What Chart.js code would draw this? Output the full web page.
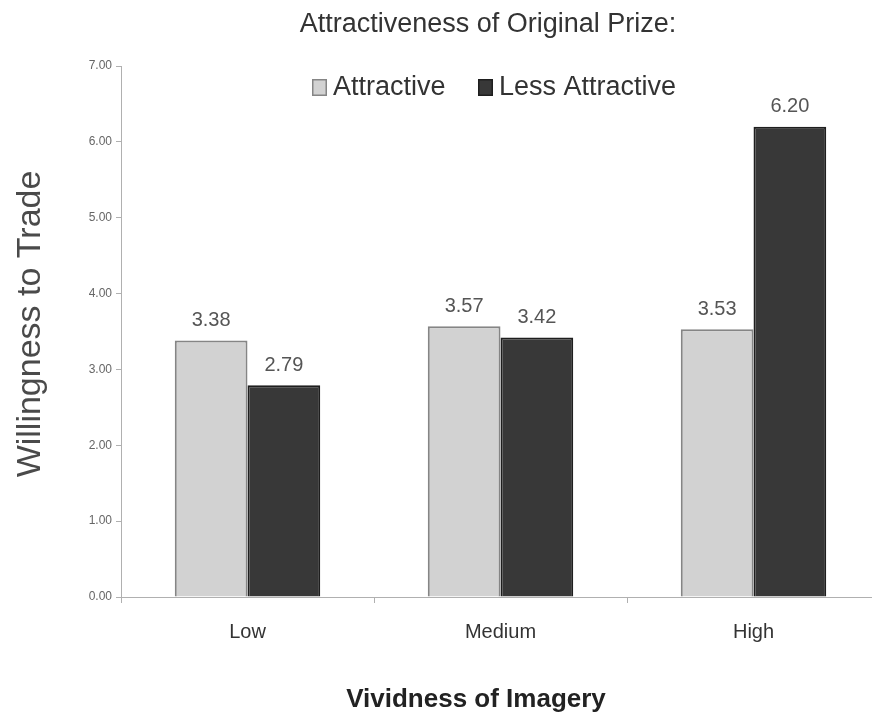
<!DOCTYPE html>
<html>
<head>
<meta charset="utf-8">
<script src="https://cdn.jsdelivr.net/npm/chart.js@4/dist/chart.umd.min.js"></script>
<style>
  html, body { margin: 0; padding: 0; background: #fff; overflow: hidden; }
  #wrap { position: absolute; left: 0; top: 0; width: 900px; height: 723px; }
</style>
</head>
<body>
<div id="wrap"><canvas id="chart"></canvas></div>
<script>
// Vividness of imagery groups and the willingness-to-trade means per prize type
const categories = ['Low', 'Medium', 'High'];
const seriesNames = ['Attractive', 'Less Attractive'];
const attractive = [3.38, 3.57, 3.53];
const lessAttractive = [2.79, 3.42, 6.20];
const yTicks = [0, 1, 2, 3, 4, 5, 6, 7];

const FONT = '"Liberation Sans", Arial, sans-serif';
const LIGHT = '#d2d2d2', LIGHT_EDGE = '#858585';
const DARK = '#383838', DARK_EDGE = '#1e1e1e';

// Title, legend, axis titles and value labels drawn on top of the chart
const annotate = {
  id: 'annotate',
  afterDatasetsDraw(chart) {
    const ctx = chart.ctx;
    ctx.save();

    // value labels above each bar
    ctx.font = '20px ' + FONT;
    ctx.fillStyle = '#555';
    ctx.textAlign = 'center';
    ctx.textBaseline = 'bottom';
    chart.data.datasets.forEach((ds, i) => {
      chart.getDatasetMeta(i).data.forEach((bar, j) => {
        ctx.fillText(ds.data[j].toFixed(2), bar.x, bar.y - 10);
      });
    });

    // chart title
    ctx.fillStyle = '#333';
    ctx.textBaseline = 'middle';
    ctx.font = '27px ' + FONT;
    ctx.fillText('Attractiveness of Original Prize:', 488, 25);

    // legend
    ctx.font = '27px ' + FONT;
    ctx.textAlign = 'left';
    const items = [
      { x: 312, fill: LIGHT, edge: LIGHT_EDGE },
      { x: 478, fill: DARK, edge: DARK_EDGE }
    ];
    items.forEach((it, i) => {
      ctx.fillStyle = it.fill;
      ctx.fillRect(it.x, 79, 15, 17);
      ctx.strokeStyle = it.edge;
      ctx.lineWidth = 1.5;
      ctx.strokeRect(it.x + 0.75, 79.75, 13.5, 15.5);
      ctx.fillStyle = '#333';
      ctx.fillText(seriesNames[i], it.x + 21, 88);
    });

    // y axis title
    ctx.save();
    ctx.translate(31, 324);
    ctx.rotate(-Math.PI / 2);
    ctx.textAlign = 'center';
    ctx.font = '34px ' + FONT;
    ctx.fillStyle = '#4a4a4a';
    ctx.fillText('Willingness to Trade', 0, 0);
    ctx.restore();

    // x axis title
    ctx.textAlign = 'center';
    ctx.font = 'bold 26px ' + FONT;
    ctx.fillStyle = '#222';
    ctx.fillText('Vividness of Imagery', 476, 700);

    ctx.restore();
  }
};

new Chart(document.getElementById('chart'), {
  type: 'bar',
  data: {
    labels: categories,
    datasets: [
      {
        label: seriesNames[0],
        data: attractive,
        backgroundColor: LIGHT,
        borderColor: LIGHT_EDGE,
        borderWidth: 2
      },
      {
        label: seriesNames[1],
        data: lessAttractive,
        backgroundColor: DARK,
        borderColor: DARK_EDGE,
        borderWidth: 2
      }
    ]
  },
  options: {
    responsive: true,
    maintainAspectRatio: false,
    animation: false,
    layout: { padding: { top: 66, right: 20, bottom: 0, left: 0 } },
    plugins: {
      legend: { display: false },
      title: { display: false },
      tooltip: { enabled: false }
    },
    datasets: {
      bar: { categoryPercentage: 0.575, barPercentage: 1.0 }
    },
    scales: {
      x: {
        afterFit(scale) { scale.height = 126; },
        grid: {
          display: true,
          drawOnChartArea: false,
          offset: true,
          tickLength: 6,
          color: '#b0b0b0'
        },
        border: { display: true, color: '#b0b0b0' },
        ticks: {
          color: '#333',
          padding: 17,
          font: { family: FONT, size: 20 }
        }
      },
      y: {
        min: 0,
        max: 7,
        afterFit(scale) { scale.width = 121; },
        afterBuildTicks(scale) { scale.ticks = yTicks.map(v => ({ value: v })); },
        grid: {
          display: true,
          drawOnChartArea: false,
          tickLength: 5,
          color: '#b0b0b0'
        },
        border: { display: true, color: '#b0b0b0' },
        ticks: {
          color: '#666',
          padding: 4,
          font: { family: FONT, size: 12 },
          callback: v => Number(v).toFixed(2)
        }
      }
    }
  },
  plugins: [annotate]
});
</script>
</body>
</html>
